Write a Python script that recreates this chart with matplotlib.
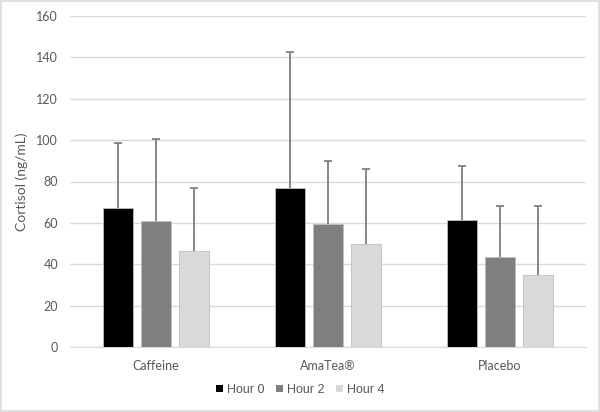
import numpy as np
import matplotlib.pyplot as plt
from matplotlib.patches import Rectangle

# Data
groups = ['Caffeine', 'AmaTea®', 'Placebo']
series = ['Hour 0', 'Hour 2', 'Hour 4']
means = {
    'Hour 0': [67, 77, 61.5],
    'Hour 2': [61, 59.6, 43.7],
    'Hour 4': [46.4, 49.9, 35],
}
upper = {
    'Hour 0': [98.7, 142.5, 87.6],
    'Hour 2': [100.7, 89.7, 68.3],
    'Hour 4': [76.8, 85.9, 68.1],
}
colors = ['#000000', '#7f7f7f', '#d9d9d9']
txt = '#595959'

plt.rcParams['font.family'] = ['Lato', 'DejaVu Sans']

fig = plt.figure(figsize=(6, 4.12), dpi=100)
ax = fig.add_axes([70/600, 1-347/412, 516/600, 331/412])

x = np.arange(len(groups))
width = 0.169
step = 0.221
for i, s in enumerate(series):
    pos = x + (i - 1) * step
    m = np.array(means[s])
    err = np.array(upper[s]) - m
    # symmetric bars, lower half hidden behind the bar
    ax.errorbar(pos, m, yerr=err, fmt='none',
                ecolor='#7f7f7f', elinewidth=1.3, capsize=3, capthick=1.3, zorder=2)
    ax.bar(pos, m, width, color=colors[i], edgecolor='#bfbfbf', linewidth=0.6,
           label=s, zorder=3)

ax.set_xlim(-0.5, 2.5)
ax.set_ylim(0, 160)
ax.set_yticks(np.arange(0, 161, 20))
ax.set_xticks(x)
ax.set_xticklabels(groups)
ax.yaxis.grid(True, color='#d9d9d9', linewidth=1)
ax.set_axisbelow(True)
for sp in ['top', 'right', 'left']:
    ax.spines[sp].set_visible(False)
ax.spines['bottom'].set_color('#d9d9d9')
ax.tick_params(axis='both', length=0, colors=txt, labelsize=9)
ax.tick_params(axis='y', pad=8.5)
ax.tick_params(axis='x', pad=9)
ax.set_ylabel('Cortisol (ng/mL)', color=txt, fontsize=10)
ax.yaxis.set_label_coords(-42/516, 0.5)

leg = fig.legend(loc='center', bbox_to_anchor=(0.5, 1-390/412), ncol=3, frameon=False,
                 handlelength=0.55, handleheight=0.55, handletextpad=0.35,
                 columnspacing=0.9, prop={'family': ['Liberation Sans'], 'size': 9})
for t in leg.get_texts():
    t.set_color(txt)
for h in leg.legend_handles:
    h.set_edgecolor('none')

fig.patches.append(Rectangle((0.002, 0.002), 0.996, 0.996, transform=fig.transFigure,
                             fill=False, edgecolor='#d9d9d9', linewidth=1.2))

fig.savefig('out.png', dpi=100)
